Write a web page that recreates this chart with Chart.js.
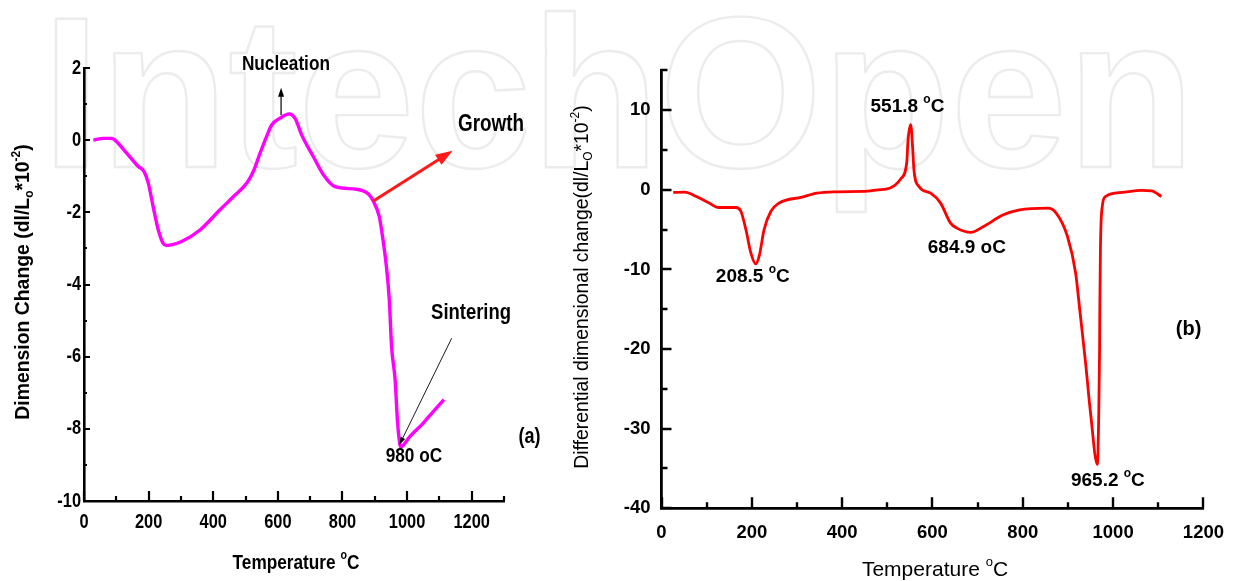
<!DOCTYPE html>
<html>
<head>
<meta charset="utf-8">
<script src="https://cdn.jsdelivr.net/npm/chart.js@4.4.1/dist/chart.umd.min.js"></script>
<style>
  html, body { margin: 0; padding: 0; background: #fff; }
  #wrap { position: relative; width: 1238px; height: 581px; overflow: hidden; }
  #wrap canvas { position: absolute; left: 0; top: 0; }
</style>
</head>
<body>
<div id="wrap">
  <canvas id="bg" width="1238" height="581"></canvas>
  <canvas id="chartA" width="1238" height="581"></canvas>
  <canvas id="chartB" width="1238" height="581"></canvas>
</div>
<script>
// ---------- (a) dimension change vs temperature ----------
const tempA = [29, 60, 86, 96, 132, 168, 186, 199, 214, 230, 245, 256, 302, 359, 421, 462, 504, 524, 545, 565, 581, 607, 635, 653, 674, 710, 741, 777, 844, 880, 895, 914, 921, 936, 945, 952, 963, 970, 975, 980, 1009, 1050, 1081, 1114];
const changeA = [0.0, 0.05, 0.05, 0.0, -0.36, -0.73, -0.87, -1.19, -1.84, -2.49, -2.86, -2.92, -2.81, -2.49, -1.93, -1.57, -1.19, -0.87, -0.36, 0.10, 0.42, 0.61, 0.73, 0.61, 0.14, -0.46, -0.96, -1.29, -1.36, -1.49, -1.68, -2.12, -2.49, -3.50, -4.43, -5.72, -6.64, -7.75, -8.25, -8.50, -8.21, -7.84, -7.52, -7.19];
const xLabelsA = [0, 200, 400, 600, 800, 1000, 1200];
const yLabelsA = [2, 0, -2, -4, -6, -8, -10];

// ---------- (b) differential dimensional change ----------
const tempB = [26, 52, 77, 106, 125, 165, 176, 187, 198, 208.5, 217, 227, 242, 260, 311, 344, 384, 457, 479, 505, 530, 543, 546, 551.8, 556, 559, 570, 596, 618, 640, 654, 684.9, 713, 757, 793, 855, 874, 899, 917, 927, 939, 950, 965.2, 968, 970, 970.5, 972, 976, 983, 1020, 1063, 1085, 1107];
const diffB = [-0.33, -0.29, -0.84, -1.67, -2.22, -2.22, -2.72, -5.02, -7.95, -9.3, -8.16, -5.02, -2.72, -1.67, -0.92, -0.42, -0.25, -0.17, 0.0, 0.2, 1.4, 3.4, 6.3, 8.2, 5.4, 2.5, 0.42, -0.42, -1.67, -4.18, -4.81, -5.35, -4.6, -3.14, -2.51, -2.3, -2.92, -5.86, -10.45, -15.5, -21.7, -28.0, -34.5, -28.9, -20.5, -15.5, -7.1, -2.1, -0.84, -0.33, -0.08, -0.12, -0.84];
const xLabelsB = [0, 200, 400, 600, 800, 1000, 1200];
const yLabelsB = [10, 0, -10, -20, -30, -40];

const SANS = "'Liberation Sans', Arial, sans-serif";

// text with optional sub/superscript pieces
function drawRich(ctx, parts, x, y, o) {
  const size = o.size, weight = o.weight || 'bold', hs = o.hs || 1;
  ctx.save();
  ctx.translate(x, y);
  if (o.rot) ctx.rotate(o.rot);
  ctx.scale(hs, 1);
  ctx.fillStyle = o.color || '#000';
  ctx.textBaseline = 'middle';
  ctx.textAlign = 'left';
  const fontFor = k => `${weight} ${k ? Math.round(size * 0.62) : size}px ${SANS}`;
  let w = 0;
  parts.forEach(p => { ctx.font = fontFor(p[1]); w += ctx.measureText(p[0]).width; });
  let cx = o.align === 'right' ? -w : (o.align === 'left' ? 0 : -w / 2);
  parts.forEach(p => {
    ctx.font = fontFor(p[1]);
    const dy = p[1] === 'sup' ? -size * 0.36 : (p[1] === 'sub' ? size * 0.3 : 0);
    ctx.fillText(p[0], cx, dy);
    cx += ctx.measureText(p[0]).width;
  });
  ctx.restore();
}

function arrow(ctx, x1, y1, x2, y2, color, width, headLen, headW) {
  const ang = Math.atan2(y2 - y1, x2 - x1);
  ctx.save();
  ctx.strokeStyle = color; ctx.fillStyle = color; ctx.lineWidth = width;
  ctx.beginPath();
  ctx.moveTo(x1, y1);
  ctx.lineTo(x2 - Math.cos(ang) * headLen * 0.8, y2 - Math.sin(ang) * headLen * 0.8);
  ctx.stroke();
  ctx.translate(x2, y2); ctx.rotate(ang);
  ctx.beginPath();
  ctx.moveTo(0, 0); ctx.lineTo(-headLen, headW / 2); ctx.lineTo(-headLen, -headW / 2);
  ctx.closePath(); ctx.fill();
  ctx.restore();
}

// inward tick marks along the left and bottom axes
const inTicks = {
  id: 'inTicks',
  afterDraw(chart, args, o) {
    const { ctx, chartArea: ca } = chart;
    const xs = chart.scales.x, ys = chart.scales.y;
    ctx.save();
    ctx.strokeStyle = '#000';
    ctx.lineWidth = o.width;
    ctx.beginPath();
    xs.ticks.forEach(t => {
      const px = Math.round(xs.getPixelForValue(t.value));
      const len = o.xLabels.includes(t.value) ? o.xMajor : o.xMinor;
      ctx.moveTo(px, ca.bottom); ctx.lineTo(px, ca.bottom - len);
    });
    ys.ticks.forEach(t => {
      const py = Math.round(ys.getPixelForValue(t.value));
      const len = o.yLabels.includes(t.value) ? o.yMajor : o.yMinor;
      ctx.moveTo(ca.left - o.yOut, py); ctx.lineTo(ca.left + len, py);
    });
    ctx.stroke();
    ctx.restore();
  }
};

// ---------- watermark lettering behind the panels ----------
(function () {
  const c = document.getElementById('bg').getContext('2d');
  c.save();
  c.translate(42, 167);
  c.scale(0.975, 1);
  c.font = `bold 215px ${SANS}`;
  c.textBaseline = 'alphabetic';
  c.lineJoin = 'round';
  c.strokeStyle = '#ececec';
  c.lineWidth = 2.4;
  c.strokeText('IntechOpen', 0, 0);
  c.restore();
})();

// ---------- chart (a) ----------
const labelsA = {
  id: 'labelsA',
  afterDraw(chart) {
    const { ctx, chartArea: ca } = chart;
    const xs = chart.scales.x, ys = chart.scales.y;
    const X = v => xs.getPixelForValue(v), Y = v => ys.getPixelForValue(v);
    const nar = 0.82;
    xLabelsA.forEach(v => drawRich(ctx, [[String(v)]], X(v), ca.bottom + 21, { size: 20, hs: nar }));
    yLabelsA.forEach(v => drawRich(ctx, [[String(v)]], ca.left - 3, Y(v), { size: 20, hs: nar, align: 'right' }));
    drawRich(ctx, [['Dimension Change (dl/L'], ['o', 'sub'], ['*10'], ['-2', 'sup'], [')']],
      24, 282, { size: 19.4, rot: -Math.PI / 2 });
    drawRich(ctx, [['Temperature '], ['o', 'sup'], ['C']], (ca.left + ca.right) / 2 + 2, 563, { size: 21, hs: nar });

    drawRich(ctx, [['Nucleation']], X(625), Y(2.11), { size: 21, hs: nar });
    arrow(ctx, X(610), Y(0.70), X(610), Y(1.45), '#000', 1.2, 9, 6);
    drawRich(ctx, [['Growth']], X(1260), Y(0.42), { size: 23, hs: nar });
    arrow(ctx, X(894.5), Y(-1.69), X(1141), Y(-0.29), '#ff1a1a', 3, 17, 12);
    drawRich(ctx, [['Sintering']], X(1198), Y(-4.79), { size: 22.5, hs: nar });
    arrow(ctx, X(1138), Y(-5.49), X(976), Y(-8.45), '#000', 0.9, 8, 5);
    drawRich(ctx, [['980 oC']], X(1021), Y(-8.75), { size: 21, hs: nar });
    drawRich(ctx, [['(a)']], X(1379), Y(-8.23), { size: 22, hs: nar });
  }
};

new Chart(document.getElementById('chartA'), {
  type: 'line',
  data: {
    datasets: [{
      data: tempA.map((t, i) => ({ x: t, y: changeA[i] })),
      borderColor: '#ff00ff',
      borderWidth: 3.4,
      pointRadius: 0,
      cubicInterpolationMode: 'monotone',
      fill: false
    }]
  },
  options: {
    responsive: false,
    animation: false,
    events: [],
    layout: { padding: { left: 0, top: 68, right: 734, bottom: 0 } },
    plugins: { legend: { display: false }, tooltip: { enabled: false }, inTicks: { width: 2.2, xLabels: xLabelsA, yLabels: yLabelsA, xMajor: 10, xMinor: 5, yMajor: 6, yMinor: 3, yOut: 1 } },
    scales: {
      x: {
        type: 'linear', min: 0, max: 1300,
        ticks: { stepSize: 100, display: false, autoSkip: false },
        grid: { display: false, drawTicks: false },
        border: { display: true, color: '#000', width: 2.6 },
        afterFit: s => { s.height = 80; }
      },
      y: {
        type: 'linear', min: -10, max: 2,
        ticks: { stepSize: 1, display: false, autoSkip: false },
        grid: { display: false, drawTicks: false },
        border: { display: true, color: '#000', width: 2.6 },
        afterFit: s => { s.width = 84; }
      }
    }
  },
  plugins: [inTicks, labelsA]
});

// ---------- chart (b) ----------
const labelsB = {
  id: 'labelsB',
  afterDraw(chart) {
    const { ctx, chartArea: ca } = chart;
    const xs = chart.scales.x, ys = chart.scales.y;
    const X = v => xs.getPixelForValue(v), Y = v => ys.getPixelForValue(v);
    drawRich(ctx, [['Differential dimensional change(dl/L'], ['O', 'sub'], ['*10'], ['-2', 'sup'], [')']],
      583, 287, { size: 19.4, weight: 'normal', rot: -Math.PI / 2 });
    drawRich(ctx, [['Temperature '], ['o', 'sup'], ['C']], 935, 570, { size: 21, weight: 'normal' });

    drawRich(ctx, [['551.8 '], ['o', 'sup'], ['C']], X(544.7), Y(10.45), { size: 19 });
    drawRich(ctx, [['208.5 '], ['o', 'sup'], ['C']], X(202.1), Y(-10.88), { size: 19 });
    drawRich(ctx, [['684.9 oC']], X(676.2), Y(-7.31), { size: 19 });
    drawRich(ctx, [['965.2 '], ['o', 'sup'], ['C']], X(988.4), Y(-36.5), { size: 19 });
    drawRich(ctx, [['(b)']], X(1167.2), Y(-17.57), { size: 20 });
  }
};

new Chart(document.getElementById('chartB'), {
  type: 'line',
  data: {
    datasets: [{
      data: tempB.map((t, i) => ({ x: t, y: diffB[i] })),
      borderColor: '#ff0000',
      borderWidth: 2.8,
      pointRadius: 0,
      cubicInterpolationMode: 'monotone',
      fill: false
    }]
  },
  options: {
    responsive: false,
    animation: false,
    events: [],
    layout: { padding: { left: 0, top: 70.4, right: 29, bottom: 0 } },
    plugins: { legend: { display: false }, tooltip: { enabled: false }, inTicks: { width: 2.4, xLabels: xLabelsB, yLabels: yLabelsB, xMajor: 11, xMinor: 6, yMajor: 10, yMinor: 6, yOut: 1 } },
    scales: {
      x: {
        type: 'linear', min: 0, max: 1200,
        ticks: {
          stepSize: 100, autoSkip: false, maxRotation: 0, padding: 14, color: '#000',
          font: { family: SANS, size: 18.5, weight: 'bold' },
          callback: v => (xLabelsB.includes(v) ? String(v) : '')
        },
        grid: { display: false, drawTicks: false },
        border: { display: true, color: '#000', width: 2.8 },
        afterFit: s => { s.height = 72.7; }
      },
      y: {
        type: 'linear', min: -40, max: 15,
        ticks: {
          stepSize: 5, autoSkip: false, padding: 11, color: '#000',
          font: { family: SANS, size: 18.5, weight: 'bold' },
          callback: v => (yLabelsB.includes(v) ? String(v) : '')
        },
        grid: { display: false, drawTicks: false },
        border: { display: true, color: '#000', width: 2.8 },
        afterFit: s => { s.width = 661.5; }
      }
    }
  },
  plugins: [inTicks, labelsB]
});
</script>
</body>
</html>
